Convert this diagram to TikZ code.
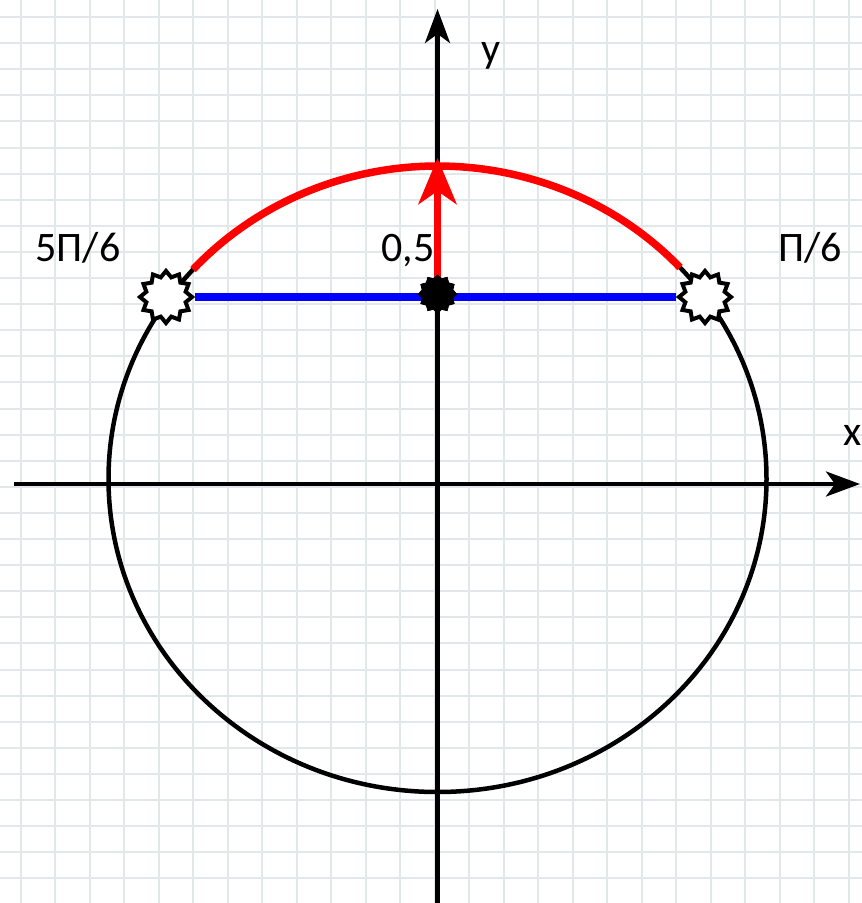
\documentclass[tikz,border=0pt]{standalone}
\usepackage{fontspec}
\setmainfont{Carlito}
\usetikzlibrary{shapes.geometric,arrows.meta}
\definecolor{gridc}{RGB}{226,232,234}
\begin{document}
\begin{tikzpicture}[x=1bp,y=-1bp,
  gridline/.style={draw=gridc, line width=2bp},
  axis/.style={line width=4.2bp, -{Stealth[length=34bp,width=25bp,inset=9bp]}},
  lbl/.style={inner sep=0pt, font=\fontsize{42bp}{50bp}\selectfont, text=black},
  openstar/.style={star, star points=12, star point ratio=1.28, minimum size=52bp, inner sep=0pt, draw=black, fill=white, line width=4bp},
  solidstar/.style={star, star points=12, star point ratio=1.22, minimum size=38bp, inner sep=0pt, draw=black, fill=black, line width=1bp}]
\useasboundingbox (0,0) rectangle (862,903);
\clip (0,0) rectangle (862,903);
\fill[white] (0,0) rectangle (862,903);
% grid
\foreach \k in {0,...,24} {\draw[gridline] ({20.7+34.5*\k},0) -- ({20.7+34.5*\k},903);}
\foreach \k in {0,...,34} {\draw[gridline] (0,{17+26.1*\k}) -- (862,{17+26.1*\k});}
% axes
\coordinate (xs) at (14,484);
\coordinate (xe) at (860,484);
\coordinate (ys) at (437.5,903);
\coordinate (ye) at (437.5,9);
\draw[axis] (xs) -- (xe);
\draw[axis] (ys) -- (ye);
% circle
\draw[line width=4.5bp] (437.5,479) ellipse [x radius=329, y radius=313];
% red arc
\draw[red, line width=7.5bp] plot[domain=42.5:138, samples=80] ({437.5+329*cos(\x)}, {479-313*sin(\x)});
% stars
\node[openstar] (L) at (166,297) {};
\node[openstar] (R) at (705,297) {};
\draw[blue, line width=7.5bp] (L.center -| L.east) -- (R.center -| R.west);
\node[solidstar] (C) at (437.5,294) {};
\coordinate (top) at (437.5,158);
\draw[red, line width=7.5bp, -{Stealth[length=46bp,width=38bp,inset=13bp]}] (C.center) -- (top);
\node[solidstar] at (437.5,294) {};
% labels
\node[lbl, anchor=base] (l1) at (78,261) {5П/6};
\node[lbl, anchor=base] (l2) at (408,261) {0,5};
\node[lbl, anchor=base] (l3) at (810,261) {П/6};
\node[lbl, anchor=base] (ly) at (491,62) {y};
\node[lbl, anchor=base west] (lx) at (843,445) {x};
\end{tikzpicture}
\end{document}
